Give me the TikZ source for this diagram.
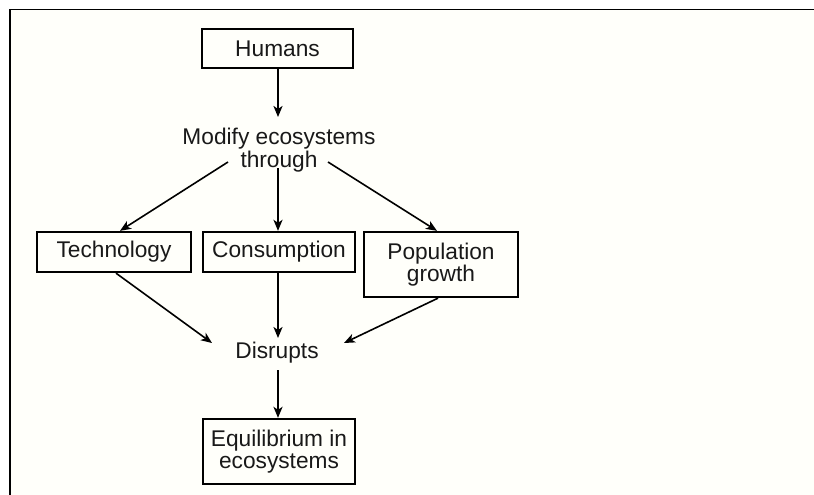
\documentclass[tikz,border=0pt]{standalone}
\usepackage{fontspec}
\setmainfont{Liberation Sans}
\usetikzlibrary{arrows.meta}
\begin{document}
\begin{tikzpicture}[x=1pt,y=-1pt,
  every node/.style={font=\fontsize{22.7}{22.5}\selectfont, text=black!90},
  box/.style={draw=black, line width=2.3pt, inner sep=0pt, align=center},
  label/.style={inner sep=0pt, align=center},
  arr/.style={-{Stealth[length=11pt,width=9pt,inset=3pt]}, line width=1.6pt},
  varr/.style={-{Stealth[length=11pt,width=9pt,inset=3pt]}, line width=2.8pt}]
  % page area and frame
  \useasboundingbox (0,0) rectangle (814,495);
  \fill[white!98!yellow] (10,9.5) rectangle (814,495);
  \draw[line width=1.5pt] (9,9.5) -- (814,9.5);
  \draw[line width=1.5pt] (10,9.5) -- (10,495);

  % boxes
  \node[box, minimum width=151pt, minimum height=39pt] (humans) at (277.5,48.5) {Humans};
  \node[box, minimum width=154pt, minimum height=40pt] (tech) at (114,252) {Technology};
  \node[box, minimum width=152pt, minimum height=40pt] (cons) at (279,252) {Consumption};
  \node[box, minimum width=154pt, minimum height=65pt] (pop) at (441,264.5) {Population\\growth};
  \node[box, minimum width=152pt, minimum height=65pt] (equil) at (279,451.5) {Equilibrium in\\ecosystems};

  % plain text labels
  \node[label] (modify) at (279,150) {Modify ecosystems\\through};
  \node[label] (disrupts) at (277,353) {Disrupts};

  % connector ends beside the text labels
  \coordinate (mtop) at (278,117);
  \coordinate (mleft) at (228,162);
  \coordinate (mmid) at (278,168);
  \coordinate (mright) at (328,162);
  \coordinate (dleft) at (212,343);
  \coordinate (dtop) at (278,338);
  \coordinate (dright) at (344,343);
  \coordinate (dbot) at (278,370);

  % connectors
  \draw[varr] (humans.south -| mtop) -- (mtop);
  \draw[arr] (mleft) -- ([xshift=6pt]tech.north);
  \draw[varr] (mmid) -- (cons.north -| mmid);
  \draw[arr] (mright) -- ([xshift=-4pt]pop.north);
  \draw[arr] ([xshift=2pt]tech.south) -- (dleft);
  \draw[varr] (cons.south -| dtop) -- (dtop);
  \draw[arr] ([xshift=-3pt]pop.south) -- (dright);
  \draw[varr] (dbot) -- (equil.north -| dbot);
\end{tikzpicture}
\end{document}
